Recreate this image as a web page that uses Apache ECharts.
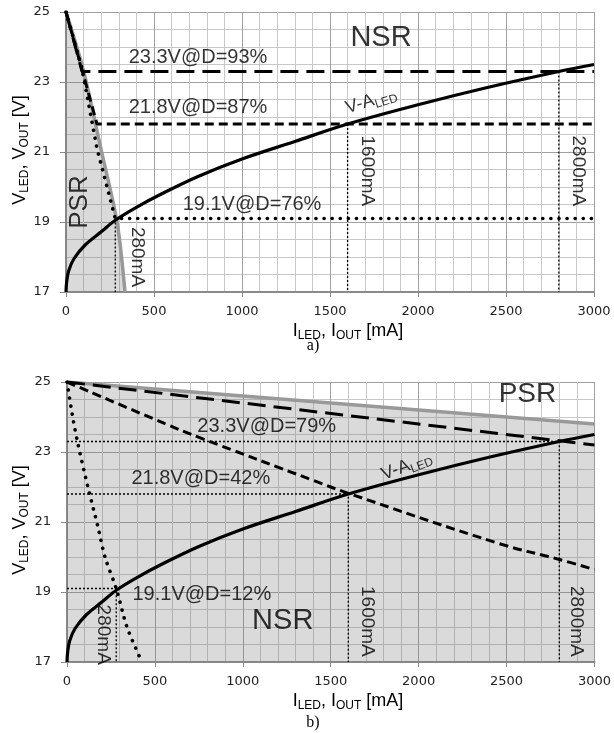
<!DOCTYPE html>
<html>
<head>
<meta charset="utf-8">
<script src="https://cdn.jsdelivr.net/npm/echarts/dist/echarts.min.js"></script>
<style>
    html, body { margin: 0; padding: 0; background: #fff; }
    #chart { width: 614px; height: 733px; }
</style>
</head>
<body>
<div id="chart"></div>
<script>
    // V-A characteristic of the LED string (same curve in a and b)
    const vaCurve = [[0, 17], [4, 17.3], [15, 17.6], [45, 17.95], [110, 18.35], [200, 18.72], [280, 19.05],
        [400, 19.42], [550, 19.82], [750, 20.3], [1000, 20.8], [1300, 21.3], [1600, 21.8],
        [2000, 22.35], [2400, 22.85], [2800, 23.3], [3000, 23.5]];

    // operating points
    const opCurrent = [280, 1600, 2800];
    const opVoltage = [19.1, 21.8, 23.3];

    // a) PSR boundary and duty lines
    const psrA = [[0, 25], [97, 23.37], [200, 21.05], [290, 19], [335, 17]];
    const d93A = [[0, 25], [91, 23.3], [3000, 23.3]];
    const d87A = [[0, 25], [176, 21.8], [3000, 21.8]];
    const d76A = [[0, 25], [90, 23.4], [176, 21.1], [280, 19.1], [3000, 19.1]];

    // b) PSR boundary and duty lines
    const psrB = [[0, 25], [3000, 23.8]];
    const d79B = [[0, 25], [3000, 23.2]];
    const d42B = [[0, 25], [557, 23.81], [755, 23.41], [1400, 22.19], [1600, 21.82], [2460, 20.38], [2800, 19.93], [3000, 19.64]];
    const d12B = [[0, 25], [34, 23.96], [62, 23.23], [119, 22.0], [176, 20.86], [216, 20.0], [280, 19.1], [341, 18.0], [426, 17]];

    const SANS = '"Liberation Sans", Arial, sans-serif';

    const chart = echarts.init(document.getElementById('chart'));

    const richSub = {
        m: { fontFamily: SANS, fontSize: 18, color: '#000', lineHeight: 22 },
        s: { fontFamily: SANS, fontSize: 12, color: '#000', lineHeight: 12, padding: [10, 0, 0, 0] }
    };

    function xAxis(gridIndex) {
        return {
            type: 'value', gridIndex, min: 0, max: 3000, interval: 500,
            axisLine: { lineStyle: { color: '#8a8a8a', width: 2 } },
            axisTick: { show: true, length: 5, lineStyle: { color: '#8a8a8a' } },
            axisLabel: { fontFamily: 'DejaVu Sans', fontSize: 13, color: '#222', margin: 13, formatter: v => String(v) },
            splitLine: { show: true, lineStyle: { color: '#a0a0a0', width: 1 } },
            minorTick: { show: true, splitNumber: 5, length: 0 },
            minorSplitLine: { show: true, lineStyle: { color: '#c8c8c8', width: 1 } }
        };
    }

    function yAxis(gridIndex) {
        return {
            type: 'value', gridIndex, min: 17, max: 25, interval: 2,
            axisLine: { show: true, lineStyle: { color: '#8a8a8a', width: 2 } },
            axisTick: { show: true, length: 6, lineStyle: { color: '#8a8a8a' } },
            axisLabel: { fontFamily: 'DejaVu Sans', fontSize: 13, color: '#222', margin: 16 },
            splitLine: { show: true, lineStyle: { color: '#a0a0a0', width: 1 } },
            minorTick: { show: true, splitNumber: 4, length: 0 },
            minorSplitLine: { show: true, lineStyle: { color: '#c8c8c8', width: 1 } }
        };
    }

    function line(idx, data, style, extra) {
        return Object.assign({
            type: 'line', xAxisIndex: idx, yAxisIndex: idx, data,
            symbol: 'none', silent: true, animation: false,
            lineStyle: Object.assign({ color: '#000', width: 3 }, style)
        }, extra || {});
    }

    const longDash = { type: [18, 8] };
    const midDash = { type: [9, 5] };
    const roundDot = { type: [0.1, 8], cap: 'round', width: 3.6 };
    const thinDot = { type: [2, 2], width: 1.3 };
    const grayEdge = { color: '#999', width: 3.5 };
    const shade = { color: 'rgba(115,115,115,0.38)', origin: 'start' };

    // text annotations, anchored in data coordinates
    function labels(idx, items) {
        return {
            type: 'scatter', xAxisIndex: idx, yAxisIndex: idx, symbolSize: 0, silent: true, animation: false,
            z: 10,
            label: {
                show: true, position: 'inside', color: '#000', fontFamily: SANS,
                formatter: p => p.name === 'VA' ? '{m|V-A}{s|LED}' : p.name,
                rich: richSub
            },
            data: items.map(t => ({
                name: t[0], value: [t[1], t[2]],
                label: { fontSize: t[3], rotate: t[4] || 0 }
            }))
        };
    }

    // axis titles and panel captions (drawn last, on top of everything)
    function title(text, x, y, rot) {
        return { type: 'text', x, y, rotation: rot || 0, silent: true, z: 100,
            style: { text, rich: richSub, align: 'center', verticalAlign: 'middle' } };
    }
    function caption(text, x, y) {
        return { type: 'text', x, y, silent: true, z: 100,
            style: { text, fontSize: 16, fontFamily: '"Liberation Serif", serif', fill: '#000', align: 'center', verticalAlign: 'middle' } };
    }

    const guidesA = opCurrent.map((c, i) => line(0, [[c, opVoltage[i]], [c, 17]], thinDot));
    const guidesB = opCurrent.map((c, i) => line(1, [[0, opVoltage[i]], [c, opVoltage[i]], [c, 17]], thinDot));

    const option = {
        grid: [
            { left: 66, top: 12, width: 528, height: 280 },
            { left: 67, top: 382, width: 528, height: 280 }
        ],
        xAxis: [xAxis(0), xAxis(1)],
        yAxis: [yAxis(0), yAxis(1)],
        graphic: [
            title('{m|I}{s|LED}{m|, I}{s|OUT}{m| [mA]}', 348, 331),
            title('{m|I}{s|LED}{m|, I}{s|OUT}{m| [mA]}', 348, 701),
            title('{m|V}{s|LED}{m|, V}{s|OUT}{m| [V]}', 20, 150, Math.PI / 2),
            title('{m|V}{s|LED}{m|, V}{s|OUT}{m| [V]}', 20, 520, Math.PI / 2),
            caption('a)', 313, 346),
            caption('b)', 313, 723)
        ],
        series: [
            // a)
            line(0, psrA, grayEdge, { smooth: 0.3, areaStyle: shade }),
            ...guidesA,
            line(0, d76A, roundDot),
            line(0, d87A, midDash),
            line(0, d93A, longDash),
            line(0, vaCurve, { width: 3.2 }, { smooth: 0.35 }),
            labels(0, [
                ['23.3V@D=93%', 750, 23.71, 20],
                ['21.8V@D=87%', 750, 22.26, 20],
                ['19.1V@D=76%', 1057, 19.49, 20],
                ['NSR', 1790, 24.27, 29],
                ['PSR', 80, 19.57, 26, 90],
                ['280mA', 403, 18.0, 19, -90],
                ['1600mA', 1710, 20.46, 19, -90],
                ['2800mA', 2909, 20.46, 19, -90],
                ['VA', 1733, 22.46, 18, 17]
            ]),
            // b)
            line(1, psrB, grayEdge, { areaStyle: shade }),
            ...guidesB,
            line(1, d12B, roundDot, { smooth: 0.3 }),
            line(1, d42B, midDash, { smooth: 0.4 }),
            line(1, d79B, longDash),
            line(1, vaCurve, { width: 3.2 }, { smooth: 0.35 }),
            labels(1, [
                ['23.3V@D=79%', 1136, 23.72, 20],
                ['21.8V@D=42%', 761, 22.25, 20],
                ['19.1V@D=12%', 767, 18.94, 20],
                ['NSR', 1227, 18.16, 29],
                ['PSR', 2619, 24.65, 28],
                ['280mA', 205, 17.78, 19, -90],
                ['1600mA', 1710, 18.16, 19, -90],
                ['2800mA', 2898, 18.16, 19, -90],
                ['VA', 1932, 22.6, 18, 21]
            ])
        ]
    };

    chart.setOption(option);
</script>
</body>
</html>
